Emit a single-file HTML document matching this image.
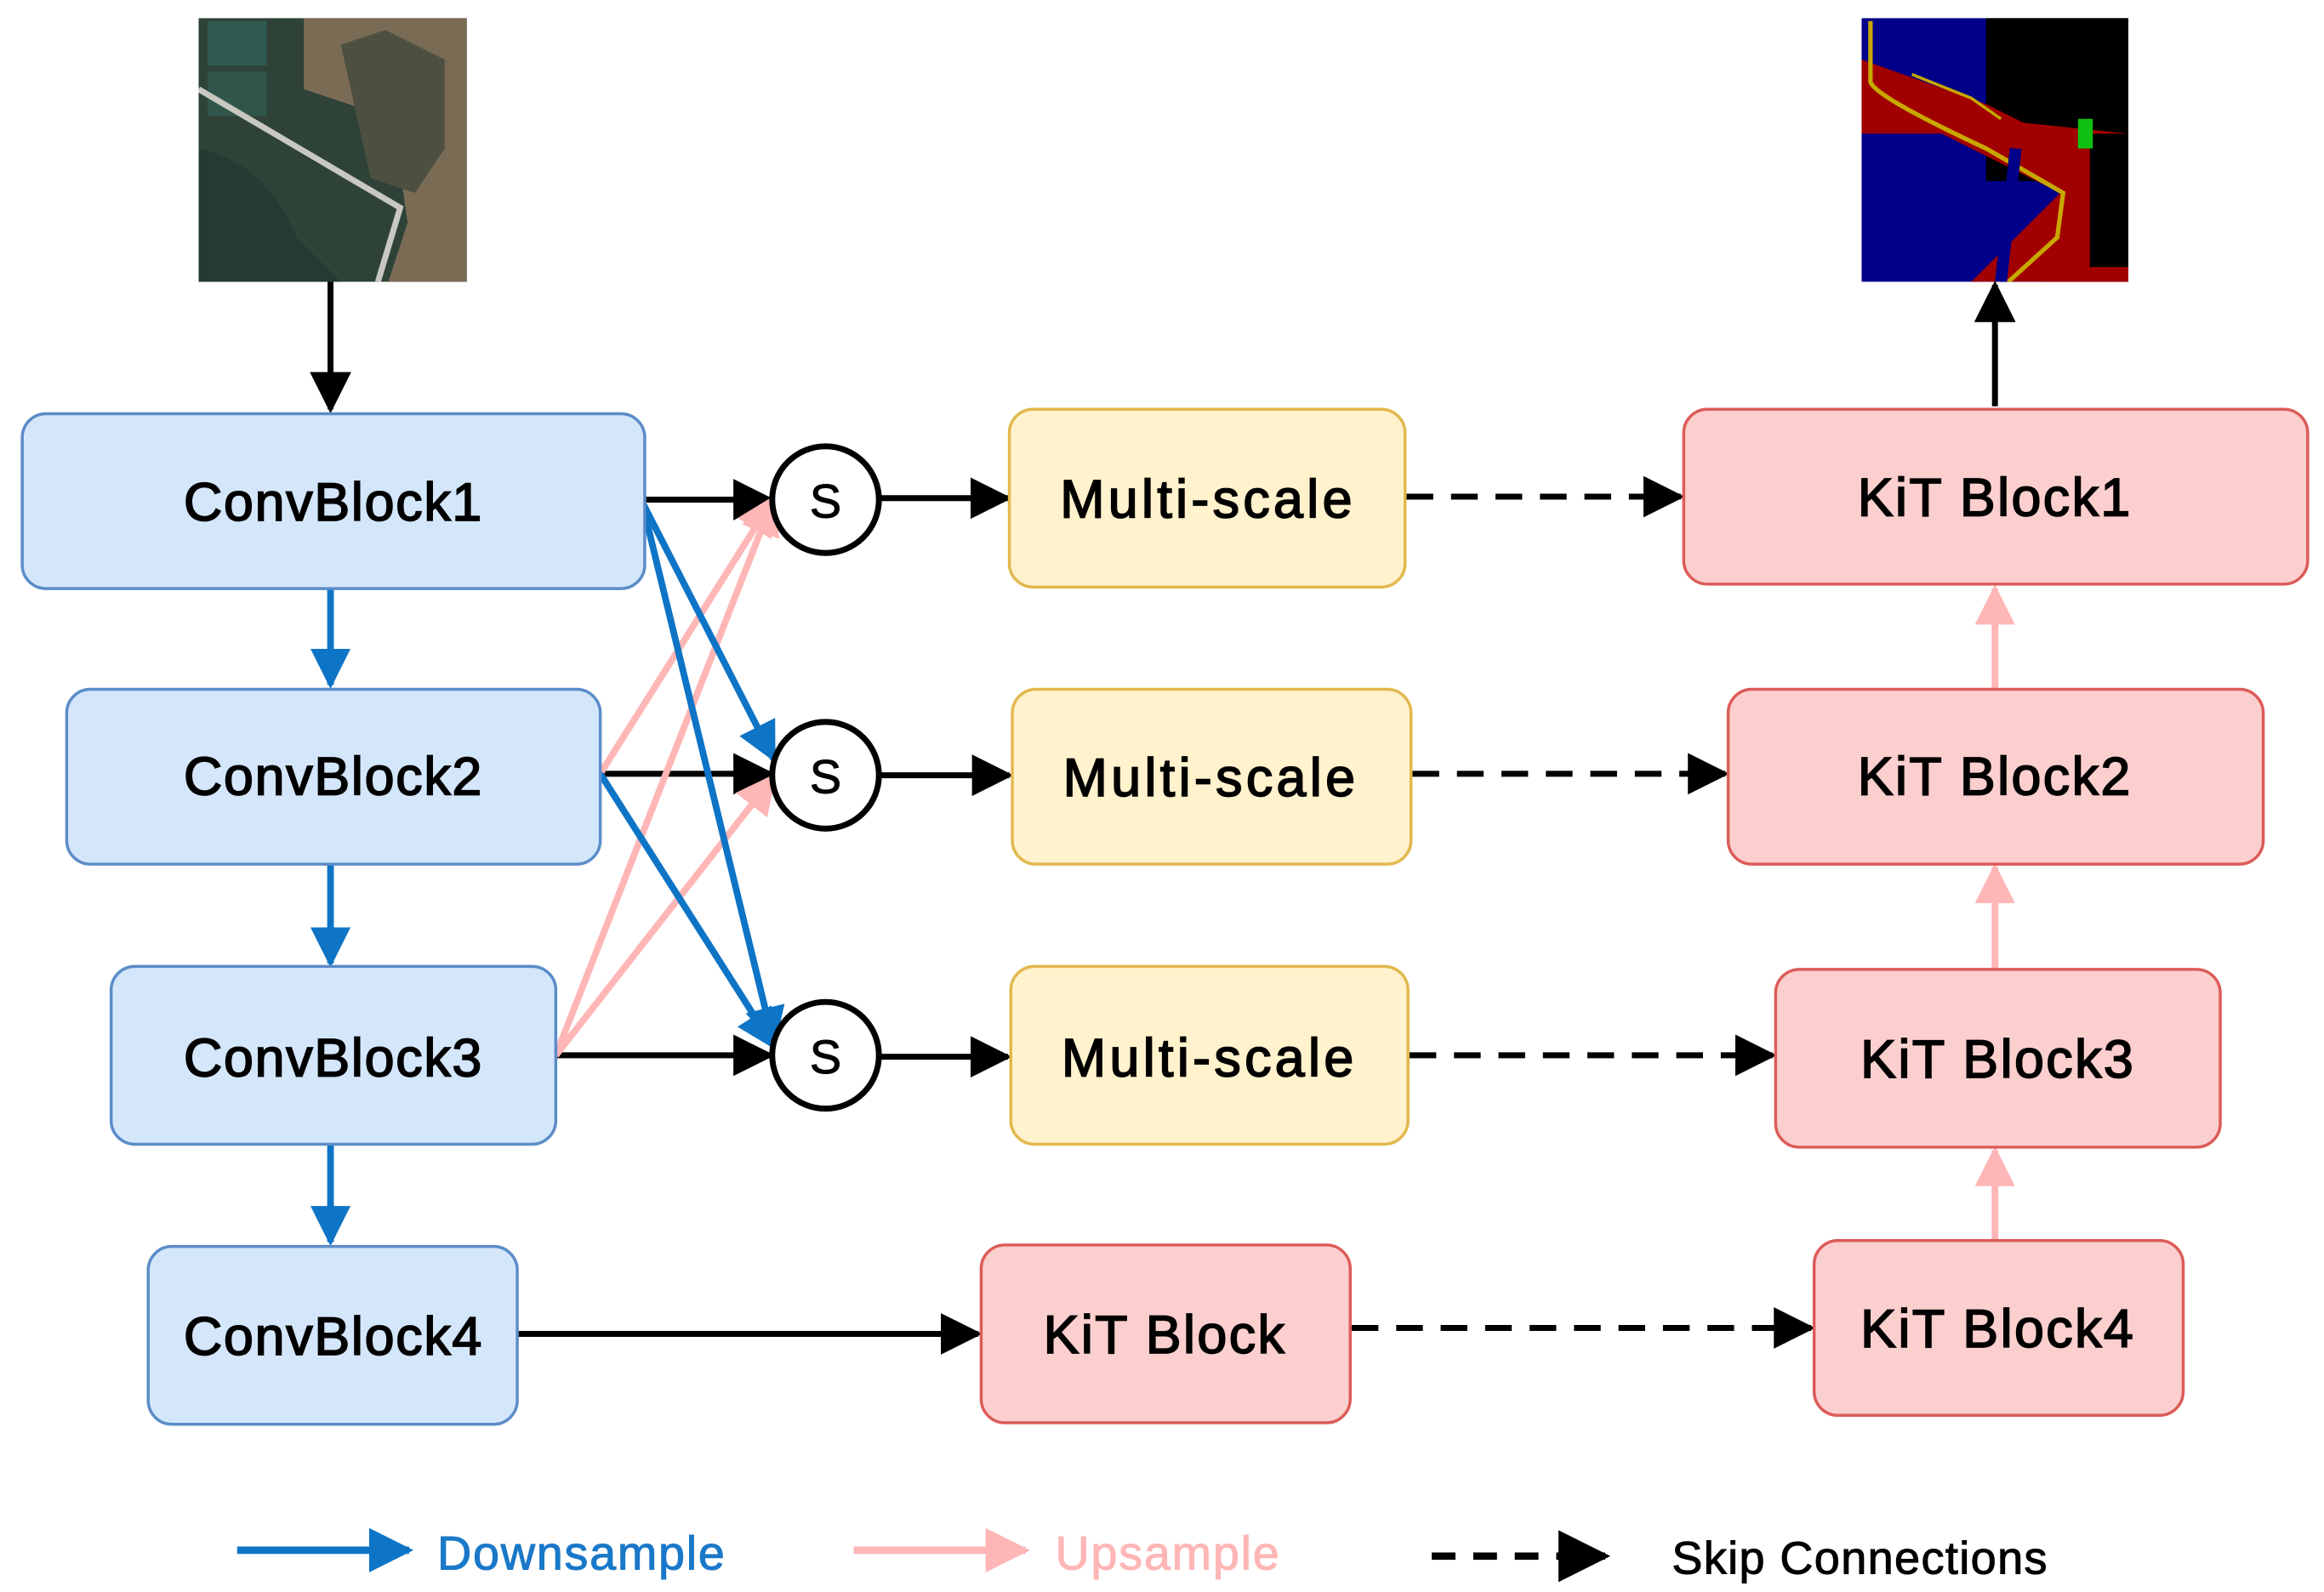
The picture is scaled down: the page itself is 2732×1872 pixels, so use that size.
<!DOCTYPE html>
<html><head><meta charset="utf-8"><style>
html,body{margin:0;padding:0;background:#fff;}
svg{display:block}
text{font-family:"Liberation Sans",sans-serif;}
</style></head><body>
<svg width="2732" height="1872" viewBox="0 0 1568 1074" xmlns="http://www.w3.org/2000/svg">
<defs>
<marker id="ab" viewBox="0 0 10 10" refX="9" refY="5" markerWidth="7" markerHeight="7" markerUnits="strokeWidth" orient="auto"><path d="M0,0 L10,5 L0,10 z" fill="#000"/></marker>
<marker id="abl" viewBox="0 0 10 10" refX="9" refY="5" markerWidth="6" markerHeight="6" markerUnits="strokeWidth" orient="auto"><path d="M0,0 L10,5 L0,10 z" fill="#0e74c6"/></marker>
<marker id="apk" viewBox="0 0 10 10" refX="9" refY="5" markerWidth="6" markerHeight="6" markerUnits="strokeWidth" orient="auto"><path d="M0,0 L10,5 L0,10 z" fill="#ffb6b6"/></marker>
<clipPath id="c1"><rect x="134" y="12" width="181" height="178"/></clipPath>
<clipPath id="c2"><rect x="1256" y="12" width="180" height="178"/></clipPath>
</defs>
<!-- input image -->
<g clip-path="url(#c1)">
<rect x="134" y="12" width="181" height="178" fill="#2e4238"/>
<rect x="140" y="14" width="40" height="30" fill="#2f5a50"/>
<rect x="140" y="48" width="40" height="30" fill="#30554a"/>
<path d="M205,12 L315,12 L315,190 L262,190 L275,150 L265,80 L205,60 z" fill="#7a6b55"/>
<path d="M230,30 L260,20 L300,40 L300,100 L280,130 L250,120 z" fill="#4d5040"/>
<path d="M134,60 L270,140 L255,190" stroke="#c8c8c0" stroke-width="4" fill="none"/>
<path d="M134,100 Q180,110 200,160 L230,190 L134,190 z" fill="#243a33"/>
</g>
<!-- output image -->
<g clip-path="url(#c2)">
<rect x="1256" y="12" width="180" height="178" fill="#000088"/>
<rect x="1340" y="12" width="96" height="110" fill="#000"/>
<path d="M1256,90 L1256,40 L1340,70 L1400,100 L1436,110 L1436,190 L1330,190 L1390,130 L1350,110 L1310,90 z" fill="#a00000"/>
<path d="M1340,80 L1436,90 L1436,190 L1380,190 L1395,120 z" fill="#a00000"/>
<rect x="1410" y="90" width="26" height="90" fill="#000"/>
<path d="M1262,14 L1262,55 Q1265,65 1340,100 L1392,130 L1388,160 L1355,190" stroke="#c8a800" stroke-width="3" fill="none"/>
<path d="M1290,50 L1330,66 L1350,80" stroke="#c8a800" stroke-width="2" fill="none"/>
<path d="M1360,100 L1350,190" stroke="#000088" stroke-width="8" fill="none"/>
<rect x="1402" y="80" width="10" height="20" fill="#10c010"/>
</g>
<!-- black arrows -->
<g stroke="#000" stroke-width="4" fill="none">
<line x1="223" y1="190" x2="223" y2="276" marker-end="url(#ab)"/>
<line x1="1346" y1="274" x2="1346" y2="192" marker-end="url(#ab)"/>
<line x1="435" y1="337" x2="520" y2="337" marker-end="url(#ab)"/>
<line x1="594" y1="336" x2="680" y2="336" marker-end="url(#ab)"/>
<line x1="405" y1="522" x2="520" y2="522" marker-end="url(#ab)"/>
<line x1="594" y1="523" x2="681" y2="523" marker-end="url(#ab)"/>
<line x1="375" y1="712" x2="520" y2="712" marker-end="url(#ab)"/>
<line x1="594" y1="713" x2="680" y2="713" marker-end="url(#ab)"/>
<line x1="349" y1="900" x2="660" y2="900" marker-end="url(#ab)"/>
</g>
<g stroke="#000" stroke-width="4" fill="none" stroke-dasharray="18,12">
<line x1="949" y1="335" x2="1134" y2="335" marker-end="url(#ab)"/>
<line x1="953" y1="522" x2="1164" y2="522" marker-end="url(#ab)"/>
<line x1="951" y1="712" x2="1196" y2="712" marker-end="url(#ab)"/>
<line x1="912" y1="896" x2="1222" y2="896" marker-end="url(#ab)"/>
</g>
<!-- pink -->
<g stroke="#ffb6b6" stroke-width="4.5" fill="none">
<line x1="375" y1="712" x2="522" y2="336" marker-end="url(#apk)"/>
<line x1="375" y1="712" x2="522" y2="524" marker-end="url(#apk)"/>
<line x1="405" y1="522" x2="522" y2="336" marker-end="url(#apk)"/>
<line x1="1346" y1="464" x2="1346" y2="397" marker-end="url(#apk)"/>
<line x1="1346" y1="653" x2="1346" y2="585" marker-end="url(#apk)"/>
<line x1="1346" y1="836" x2="1346" y2="776" marker-end="url(#apk)"/>
</g>
<!-- blue -->
<g stroke="#0e74c6" stroke-width="4.5" fill="none">
<line x1="433" y1="338" x2="522" y2="512" marker-end="url(#abl)"/>
<line x1="433" y1="338" x2="522" y2="704" marker-end="url(#abl)"/>
<line x1="405" y1="522" x2="522" y2="706" marker-end="url(#abl)"/>
<line x1="223" y1="397" x2="223" y2="462" marker-end="url(#abl)"/>
<line x1="223" y1="583" x2="223" y2="650" marker-end="url(#abl)"/>
<line x1="223" y1="772" x2="223" y2="838" marker-end="url(#abl)"/>
</g>
<!-- conv blocks -->
<g fill="#d4e6fa" stroke="#5b8cc8" stroke-width="2">
<rect x="15" y="279" width="420" height="118" rx="16"/>
<rect x="45" y="465" width="360" height="118" rx="16"/>
<rect x="75" y="652" width="300" height="120" rx="16"/>
<rect x="100" y="841" width="249" height="120" rx="16"/>
</g>
<g fill="#fff2cc" stroke="#e2b84e" stroke-width="2">
<rect x="681" y="276" width="267" height="120" rx="16"/>
<rect x="683" y="465" width="269" height="118" rx="16"/>
<rect x="682" y="652" width="268" height="120" rx="16"/>
</g>
<g fill="#fbcfcd" stroke="#dc5c58" stroke-width="2">
<rect x="662" y="840" width="249" height="120" rx="16"/>
<rect x="1136" y="276" width="421" height="118" rx="16"/>
<rect x="1166" y="465" width="361" height="118" rx="16"/>
<rect x="1198" y="654" width="300" height="120" rx="16"/>
<rect x="1224" y="837" width="249" height="118" rx="16"/>
</g>
<g fill="#fff" stroke="#000" stroke-width="4">
<circle cx="557" cy="337" r="36"/>
<circle cx="557" cy="523" r="36"/>
<circle cx="557" cy="712" r="36"/>
</g>
<g font-size="36" text-anchor="middle" fill="#000" stroke="#000" stroke-width="1" letter-spacing="1">
<text x="225" y="351">ConvBlock1</text>
<text x="225" y="536">ConvBlock2</text>
<text x="225" y="726">ConvBlock3</text>
<text x="225" y="914">ConvBlock4</text>
<text x="815" y="349" letter-spacing="2.5">Multi-scale</text>
<text x="817" y="537" letter-spacing="2.5">Multi-scale</text>
<text x="816" y="726" letter-spacing="2.5">Multi-scale</text>
<text x="786" y="913" letter-spacing="1.4">KiT Block</text>
<text x="1346" y="348" letter-spacing="1.4">KiT Block1</text>
<text x="1346" y="536" letter-spacing="1.4">KiT Block2</text>
<text x="1348" y="727" letter-spacing="1.4">KiT Block3</text>
<text x="1348" y="909" letter-spacing="1.4">KiT Block4</text>
<text x="557" y="349" font-size="32" stroke-width="0.6" letter-spacing="0">S</text>
<text x="557" y="535" font-size="32" stroke-width="0.6" letter-spacing="0">S</text>
<text x="557" y="724" font-size="32" stroke-width="0.6" letter-spacing="0">S</text>
</g>
<!-- legend -->
<line x1="160" y1="1046" x2="276" y2="1046" stroke="#0e74c6" stroke-width="5" marker-end="url(#abl)"/>
<line x1="576" y1="1046" x2="692" y2="1046" stroke="#ffb6b6" stroke-width="5" marker-end="url(#apk)"/>
<line x1="966" y1="1050" x2="1083" y2="1050" stroke="#000" stroke-width="5" stroke-dasharray="16,12" marker-end="url(#ab)"/>
<text x="295" y="1059" font-size="32" letter-spacing="1" fill="#1a78c8" stroke="#1a78c8" stroke-width="0.6">Downsample</text>
<text x="712" y="1059" font-size="32" letter-spacing="1" fill="#ffb6b6" stroke="#ffb6b6" stroke-width="0.6">Upsample</text>
<text x="1128" y="1062" font-size="31" letter-spacing="0.8" fill="#000" stroke="#000" stroke-width="0.6">Skip Connections</text>
</svg>
</body></html>
